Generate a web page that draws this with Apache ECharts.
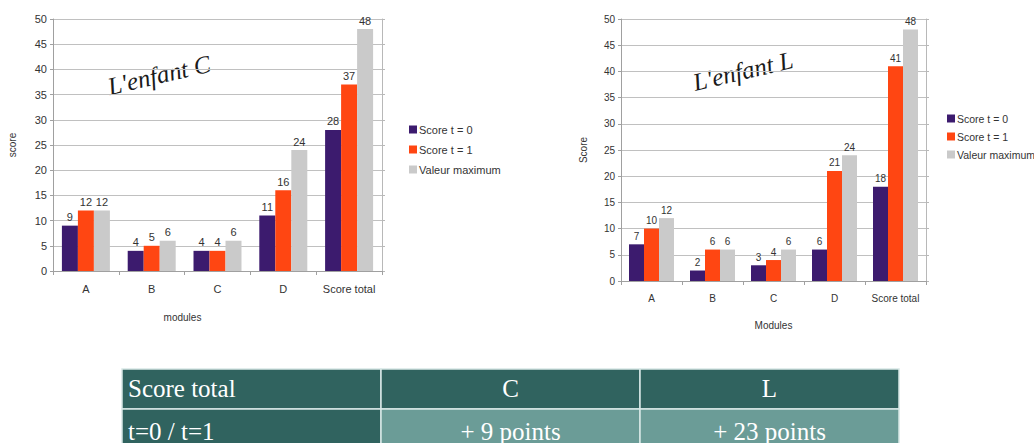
<!DOCTYPE html>
<html>
<head>
<meta charset="utf-8">
<script src="https://cdn.jsdelivr.net/npm/echarts@6/dist/echarts.min.js"></script>
<style>
  html, body { margin: 0; padding: 0; background: #ffffff; }
  #chart { width: 1034px; height: 443px; }
</style>
</head>
<body>
<div id="chart"></div>
<script>
// Module scores for the two children
const categories = ['A', 'B', 'C', 'D', 'Score total'];
const seriesNames = ['Score t = 0', 'Score t = 1', 'Valeur maximum'];

const childC_t0 = [9, 4, 4, 11, 28];
const childC_t1 = [12, 5, 4, 16, 37];
const childC_max = [12, 6, 6, 24, 48];

const childL_t0 = [7, 2, 3, 6, 18];
const childL_t1 = [10, 6, 4, 21, 41];
const childL_max = [12, 6, 6, 24, 48];

const yTicks = { min: 0, max: 50, interval: 5 };

// Summary table
const tableHeader = ['Score total', 'C', 'L'];
const tableRow = ['t=0 / t=1', '+ 9 points', '+ 23 points'];

const colors = ['#3c1b6e', '#ff4612', '#cacaca'];
const textColor = '#333333';
const sans = '"Liberation Sans", Arial, sans-serif';

function yAxisLeft(gridIndex, name, fontSize, gap) {
  return {
    type: 'value', gridIndex, min: yTicks.min, max: yTicks.max, interval: yTicks.interval,
    name, nameLocation: 'middle', nameGap: gap, nameRotate: 90,
    nameTextStyle: { color: textColor, fontFamily: sans, fontSize: 10 },
    axisLine: { show: true, lineStyle: { color: '#a0a0a0' } },
    axisTick: { show: true, length: 3, lineStyle: { color: '#a0a0a0' } },
    axisLabel: { color: textColor, fontFamily: sans, fontSize, margin: 6 },
    splitLine: { show: true, lineStyle: { color: '#c0c0c0', width: 1 } }
  };
}
function yAxisRight(gridIndex) {
  return {
    type: 'value', gridIndex, position: 'right', min: yTicks.min, max: yTicks.max, interval: yTicks.interval,
    axisLine: { show: true, lineStyle: { color: '#b8b8b8' } },
    axisTick: { show: true, length: 3, lineStyle: { color: '#b8b8b8' } },
    axisLabel: { show: false }, splitLine: { show: false }
  };
}
function xAxis(gridIndex, name, fontSize, gap, namePad) {
  return {
    type: 'category', gridIndex, data: categories,
    name, nameLocation: 'middle', nameGap: gap,
    nameTextStyle: { color: textColor, fontFamily: sans, fontSize: 10, padding: namePad },
    axisLine: { lineStyle: { color: '#a0a0a0' } },
    axisTick: { show: true, length: 4, interval: 0, lineStyle: { color: '#a0a0a0' } },
    axisLabel: { color: textColor, fontFamily: sans, fontSize, margin: 12, interval: 0 }
  };
}
function bars(name, data, idx, axisIndex, width, fontSize) {
  return {
    type: 'bar', name, data, xAxisIndex: axisIndex, yAxisIndex: axisIndex * 2,
    barWidth: width, barGap: '0%',
    itemStyle: { color: colors[idx] },
    label: { show: true, position: 'top', distance: 3, color: textColor, fontFamily: sans, fontSize },
    emphasis: { disabled: true }
  };
}
function legend(left, top, gap, fontSize) {
  return {
    data: seriesNames, orient: 'vertical', left, top, itemGap: gap,
    itemWidth: 8, itemHeight: 8, icon: 'rect',
    textStyle: { color: textColor, fontFamily: sans, fontSize, padding: [0, 0, 0, -3] }
  };
}

// Table geometry is drawn with graphic rectangles and text
const tblX = [122, 381, 640, 899];
const tblY = [369, 409, 449];
const darkTeal = '#30635f';
const lightTeal = '#6b9c97';
const serif = '"Liberation Serif", "Times New Roman", serif';
const tableGraphics = [];
[tableHeader, tableRow].forEach((row, r) => {
  row.forEach((txt, c) => {
    const fill = (r === 0 || c === 0) ? darkTeal : lightTeal;
    tableGraphics.push({
      type: 'rect',
      shape: { x: tblX[c], y: tblY[r], width: tblX[c + 1] - tblX[c], height: tblY[r + 1] - tblY[r] },
      style: { fill, stroke: '#d8e8e6', lineWidth: 1.5 }
    });
    tableGraphics.push({
      type: 'text',
      x: c === 0 ? tblX[c] + 6 : (tblX[c] + tblX[c + 1]) / 2,
      y: (tblY[r] + tblY[r + 1]) / 2 + (r === 1 ? 2 : -1),
      style: {
        text: txt, fill: '#ffffff', font: '25px ' + serif,
        textAlign: c === 0 ? 'left' : 'center', textVerticalAlign: 'middle'
      }
    });
  });
});

const titleFont = 'italic 25px "Liberation Serif", "DejaVu Serif", serif';

const chart = echarts.init(document.getElementById('chart'), null, { renderer: 'svg' });
chart.setOption({
  animation: false,
  backgroundColor: '#ffffff',
  grid: [
    { left: 53, top: 19, width: 329, height: 252, containLabel: false },
    { left: 621, top: 19, width: 305, height: 262, containLabel: false }
  ],
  xAxis: [
    xAxis(0, 'modules', 11, 41, [0, 70, 0, 0]),
    xAxis(1, 'Modules', 10, 39, [0, 0, 0, 0])
  ],
  yAxis: [
    yAxisLeft(0, 'score', 11, 36), yAxisRight(0),
    yAxisLeft(1, 'Score', 10, 33), yAxisRight(1)
  ],
  legend: [legend(404, 119, 9, 11), legend(942, 108, 7, 10.5)],
  series: [
    bars(seriesNames[0], childC_t0, 0, 0, 16, 11),
    bars(seriesNames[1], childC_t1, 1, 0, 16, 11),
    bars(seriesNames[2], childC_max, 2, 0, 16, 11),
    bars(seriesNames[0], childL_t0, 0, 1, 15, 10),
    bars(seriesNames[1], childL_t1, 1, 1, 15, 10),
    bars(seriesNames[2], childL_max, 2, 1, 15, 10)
  ],
  graphic: [
    {
      type: 'text', x: 159, y: 75, rotation: 0.23,
      style: { text: "L'enfant C", fill: '#1a1a1a', font: titleFont, textAlign: 'center', textVerticalAlign: 'middle' }
    },
    {
      type: 'text', x: 743, y: 71, rotation: 0.23,
      style: { text: "L'enfant L", fill: '#1a1a1a', font: titleFont, textAlign: 'center', textVerticalAlign: 'middle' }
    }
  ].concat(tableGraphics)
});
</script>
</body>
</html>
